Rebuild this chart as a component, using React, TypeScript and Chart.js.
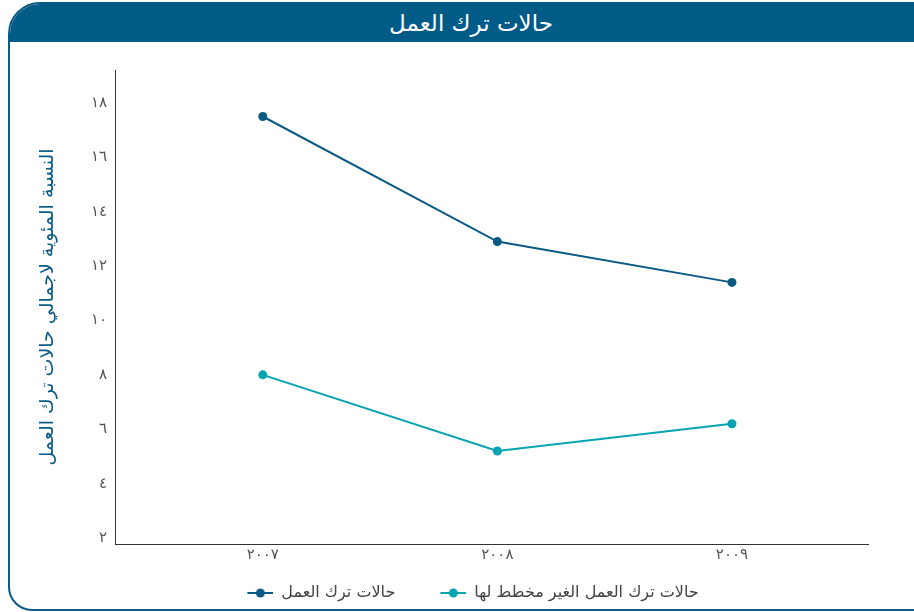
import React, { useEffect, useRef } from "react";
import { Chart, registerables } from "chart.js";

Chart.register(...registerables);

const chartTitle = "حالات ترك العمل";
const yAxisTitle = "النسبة المئوية لاجمالي حالات ترك العمل";
const years = [2007, 2008, 2009];
const yearLabels = ["٢٠٠٧", "٢٠٠٨", "٢٠٠٩"];
const seriesNames = ["حالات ترك العمل", "حالات ترك العمل الغير مخطط لها"];
const totalExits = [17.5, 12.9, 11.4];
const unplannedExits = [8.0, 5.2, 6.2];
const yTicks = [2, 4, 6, 8, 10, 12, 14, 16, 18];
const yTickLabels = ["٢", "٤", "٦", "٨", "١٠", "١٢", "١٤", "١٦", "١٨"];

const DARK = "#0b5a85";
const TEAL = "#06a3b1";
const FONT = "'DejaVu Sans', sans-serif";

// legend marker: transparent lead-in (item spacing) + line with dot
const MARK_GAP = 33;
const MARK_LEN = 26;
function makeMarker(color: string): HTMLCanvasElement {
  const c = document.createElement("canvas");
  c.width = MARK_GAP + MARK_LEN;
  c.height = 12;
  const ctx = c.getContext("2d")!;
  ctx.strokeStyle = color;
  ctx.lineWidth = 2;
  ctx.beginPath();
  ctx.moveTo(MARK_GAP, 6);
  ctx.lineTo(MARK_GAP + MARK_LEN, 6);
  ctx.stroke();
  ctx.fillStyle = color;
  ctx.beginPath();
  ctx.arc(MARK_GAP + MARK_LEN / 2, 6, 4.5, 0, Math.PI * 2);
  ctx.fill();
  return c;
}

export default function App() {
  const ref = useRef<HTMLCanvasElement | null>(null);

  useEffect(() => {
    if (!ref.current) return;
    const markers = [DARK, TEAL].map(makeMarker);
    const chart = new Chart(ref.current, {
      type: "line",
      data: {
        datasets: [
          {
            label: seriesNames[0],
            data: years.map((x, i) => ({ x, y: totalExits[i] })),
            borderColor: DARK,
            backgroundColor: DARK,
            borderWidth: 2,
            pointRadius: 4.5,
            pointBackgroundColor: DARK,
            pointBorderWidth: 0,
          },
          {
            label: seriesNames[1],
            data: years.map((x, i) => ({ x, y: unplannedExits[i] })),
            borderColor: TEAL,
            backgroundColor: TEAL,
            borderWidth: 2,
            pointRadius: 4.5,
            pointBackgroundColor: TEAL,
            pointBorderWidth: 0,
          },
        ],
      },
      options: {
        animation: false,
        responsive: false,
        maintainAspectRatio: false,
        layout: { padding: { left: 45, right: 46, top: 26, bottom: 0 } },
        plugins: {
          tooltip: { enabled: false },
          legend: {
            position: "bottom",
            labels: {
              usePointStyle: true,
              pointStyleWidth: MARK_GAP + MARK_LEN,
              color: "#444",
              font: { family: FONT, size: 16 },
              padding: 12,
              generateLabels: (ch: any) => {
                const items = Chart.defaults.plugins.legend.labels.generateLabels(ch);
                items.forEach((it: any, i: number) => {
                  it.pointStyle = markers[i];
                });
                return items;
              },
            },
          },
        },
        scales: {
          x: {
            type: "linear",
            min: 2006.37,
            max: 2009.58,
            grid: { display: false, drawTicks: false },
            border: { display: true, color: "#333", width: 1 },
            afterBuildTicks: (s: any) => {
              s.ticks = years.map((v) => ({ value: v }));
            },
            afterFit: (s: any) => {
              s.height = 29;
            },
            ticks: {
              color: "#555",
              font: { family: FONT, size: 15 },
              padding: 2,
              callback: (v: any) => yearLabels[years.indexOf(Number(v))],
            },
          },
          y: {
            type: "linear",
            min: 1.78,
            max: 19.21,
            grid: { display: false, drawTicks: false },
            border: { display: true, color: "#333", width: 1 },
            afterBuildTicks: (s: any) => {
              s.ticks = yTicks.map((v) => ({ value: v }));
            },
            afterFit: (s: any) => {
              s.width = 70;
            },
            title: {
              display: true,
              text: yAxisTitle,
              color: DARK,
              font: { family: FONT, size: 19 },
              padding: { top: -8, bottom: 4 },
            },
            ticks: {
              color: "#555",
              font: { family: FONT, size: 15 },
              padding: 8,
              callback: (v: any) => yTickLabels[yTicks.indexOf(Number(v))],
            },
          },
        },
      },
    } as any);
    return () => chart.destroy();
  }, []);

  return (
    <div
      style={{
        position: "absolute",
        left: 0,
        top: 0,
        width: 914,
        height: 612,
        overflow: "hidden",
        background: "#fff",
        fontFamily: FONT,
      }}
    >
      <div
        style={{
          position: "absolute",
          left: 8,
          top: 2,
          width: 922,
          height: 605,
          border: "2px solid " + DARK,
          borderRadius: "32px 0 0 24px",
          overflow: "hidden",
          boxSizing: "content-box",
        }}
      >
        <div
          dir="rtl"
          style={{
            height: 38,
            background: "#005b86",
            color: "#fff",
            fontSize: 23,
            textAlign: "center",
            lineHeight: "38px",
          }}
        >
          {chartTitle}
        </div>
      </div>
      <canvas
        ref={ref}
        width={914}
        height={567}
        style={{ position: "absolute", left: 0, top: 44, width: 914, height: 567 }}
      />
    </div>
  );
}
